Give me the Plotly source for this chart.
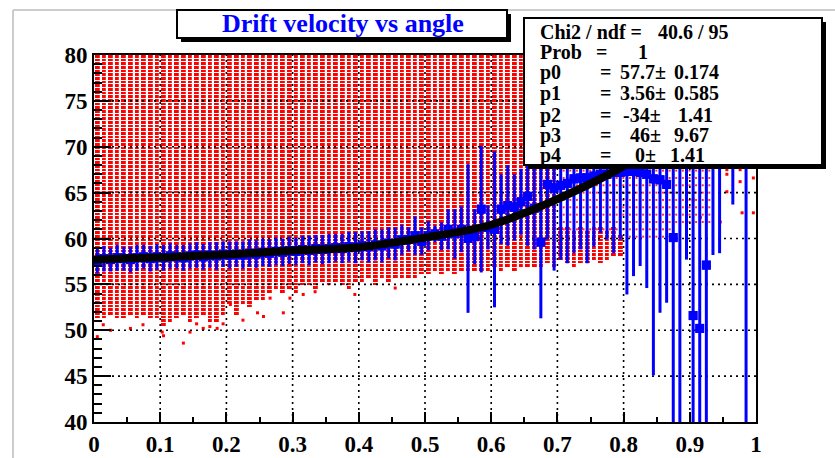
import plotly.graph_objects as go

# ---------------- data ----------------
bin_centers = [round(0.005 + 0.01 * k, 3) for k in range(100)]

# profile (blue) values and errors per x bin (None = empty bin)
prof_y = [57.6, 57.8, 57.7, 57.9, 57.8, 57.7, 57.9, 58.0, 57.8, 58.0,
          57.9, 58.1, 58.0, 57.9, 58.1, 58.2, 58.0, 58.2, 58.1, 58.3,
          58.2, 58.3, 58.2, 58.4, 58.3, 58.5, 58.4, 58.6, 58.5, 58.7,
          58.6, 58.8, 58.7, 58.9, 58.8, 58.9, 59.0, 58.9, 59.1, 59.0,
          59.2, 59.1, 59.3, 59.2, 59.5, 59.4, 59.85, 59.9, 60.3, 59.7,
          60.3, 60.5, 60.25, 61.0, 60.5, 61.0, 60.0, 60.2, 63.2, 61.2,
          61.0, 63.2, 63.6, 63.4, 64.0, 64.6, 63.3, 59.6, 65.9, 65.5,
          65.8, 66.0, 66.5, 66.6, 66.6, 66.8, 67.0, 67.0, 67.2, 67.2,
          67.3, 67.3, 67.2, 67.0, 66.5, 66.4, 65.9, 60.1, 72.0, 70.0,
          51.6, 50.2, 57.1, 70.0, 70.0, None, 72.0, None, 70.0, None]
prof_err = [1.4, 1.4, 1.3, 1.4, 1.3, 1.4, 1.4, 1.3, 1.4, 1.4,
            1.4, 1.4, 1.3, 1.4, 1.4, 1.4, 1.4, 1.4, 1.5, 1.4,
            1.5, 1.4, 1.5, 1.5, 1.5, 1.5, 1.5, 1.5, 1.5, 1.5,
            1.5, 1.5, 1.6, 1.5, 1.6, 1.6, 1.5, 1.6, 1.6, 1.7,
            1.6, 1.7, 1.7, 1.8, 1.7, 1.8, 1.65, 1.3, 2.1, 1.5,
            1.6, 0.9, 1.5, 2.2, 2.7, 2.5, 8.1, 3.0, 6.9, 2.4,
            8.5, 3.8, 4.4, 3.6, 3.6, 5.4, 4.5, 8.3, 6.0, 9.0,
            8.1, 8.7, 8.1, 7.8, 9.3, 7.7, 6.4, 7.1, 8.8, 7.3,
            13.4, 11.4, 10.2, 12.4, 21.4, 14.5, 12.9, 22.0, 35.0, 12.3,
            16.0, 22.0, 19.0, 11.8, 11.6, None, 8.3, None, 35.0, None]

# dense red scatter region: lower / upper edge per x bin (None = no dense region)
dense_lo = [51.3, 51.1, 51.7, 51.1, 51.1, 51.7, 51.3, 51.7, 51.1, 51.1,
            50.4, 50.9, 51.1, 51.5, 50.9, 51.3, 51.7, 50.9, 50.9, 51.7,
            52.8, 51.7, 52.95, 52.4, 53.1, 53.1, 53.85, 54.4, 54.2, 54.6,
            53.85, 54.8, 55.0, 54.6, 55.2, 54.8, 55.3, 55.0, 54.6, 55.2,
            55.3, 55.5, 55.0, 55.6, 55.3, 55.7, 55.5, 55.8, 55.6, 55.9,
            56.0, 56.3, 56.1, 56.4, 56.2, 56.5, 56.3, 56.6, 56.4, 56.5,
            56.8, 56.6, 56.9, 56.5, 56.8, 57.0, 56.7, 56.9, 57.1, 56.8,
            57.6, 57.4, 57.0, 57.3, 57.1, 57.5, 57.3, 57.8, 58.0, 58.2] + [None] * 20
dense_hi = [80.0] * 70 + [61.0, 61.2, 60.8, 61.0, 60.9, 61.2, 61.0, 60.8, 61.0, 60.5] + [None] * 20

# sparse red region (thin dotted columns)
sparse_lo = [None] * 70 + [61.0] * 10 + [59.9] * 7 + [61.8] * 6 + [None] * 7
sparse_hi = [None] * 70 + [80.0] * 10 + [80.0] * 7 + [80.0] * 6 + [None] * 7

# isolated red entries
out_x = [0.005, 0.014, 0.025, 0.055, 0.074, 0.103, 0.105, 0.135, 0.145, 0.155,
         0.165, 0.175, 0.186, 0.195, 0.206, 0.225, 0.236, 0.247, 0.256, 0.266,
         0.286, 0.296, 0.316, 0.334, 0.394, 0.455,
         0.956, 0.976, 0.976, 0.956, 0.996, 0.996, 0.956, 0.905, 0.916, 0.946, 0.979]
out_y = [49.3, 50.6, 50.0, 50.2, 50.6, 49.8, 49.4, 48.6, 49.8, 50.7,
         50.2, 50.4, 50.2, 50.7, 52.8, 51.1, 53.0, 51.9, 51.5, 53.5,
         51.9, 53.5, 53.9, 54.2, 53.9, 54.6,
         67.5, 67.5, 66.2, 67.0, 66.6, 62.8, 65.1, 64.2, 62.3, 61.8, 62.8]

# fitted curve
fit_x = [0.0, 0.1, 0.2, 0.3, 0.4, 0.5, 0.6, 0.7, 0.8, 0.9, 0.95]
fit_y = [57.7, 57.95, 58.25, 58.7, 59.05, 60.1, 61.5, 64.3, 67.9, 73.0, 76.5]

x_ticks = [0, 0.1, 0.2, 0.3, 0.4, 0.5, 0.6, 0.7, 0.8, 0.9, 1]
x_labels = ["0", "0.1", "0.2", "0.3", "0.4", "0.5", "0.6", "0.7", "0.8", "0.9", "1"]
y_ticks = [40, 45, 50, 55, 60, 65, 70, 75, 80]
y_labels = ["40", "45", "50", "55", "60", "65", "70", "75", "80"]

title_text = "Drift velocity vs angle"
stat_rows = [
    ("Chi2 / ndf =", None, "40.6 / 95", None),
    ("Prob", "=", "1", None),
    ("p0", "=", "57.7\u00b1", "0.174"),
    ("p1", "=", "3.56\u00b1", "0.585"),
    ("p2", "=", "-34\u00b1", "1.41"),
    ("p3", "=", "46\u00b1", "9.67"),
    ("p4", "=", "0\u00b1", "1.41"),
]

# ---------------- layout geometry ----------------
W, H = 835, 458
ML, MR, MT, MB = 94, 79, 55, 36
PW, PH = W - ML - MR, H - MT - MB
X0, X1, Y0, Y1 = 0.0, 1.0, 40.0, 80.0
YBIN = 0.4
FONT = "Liberation Serif, Times New Roman, serif"


def pxx(px):
    return (px - ML) / PW


def pxy(py):
    return 1 - (py - MT) / PH


# ---------------- red scatter (as gapped heatmap) ----------------
nrows = int(round((Y1 - Y0) / YBIN))
ycent = [Y0 + YBIN * (i + 0.5) for i in range(nrows)]
z = []
for yc in ycent:
    row = []
    for k in range(100):
        lo, hi = dense_lo[k], dense_hi[k]
        row.append(1 if (lo is not None and lo <= yc <= hi) else None)
    z.append(row)

fig = go.Figure()
fig.add_trace(go.Heatmap(x=bin_centers, y=ycent, z=z, xgap=2.2, ygap=1,
                         colorscale=[[0, "#ff0000"], [1, "#ff0000"]],
                         zmin=0, zmax=1, showscale=False, hoverinfo="skip"))

sx, sy = [], []
for k in range(100):
    lo, hi = sparse_lo[k], sparse_hi[k]
    if lo is None:
        continue
    for i, yc in enumerate(ycent):
        if lo <= yc <= hi and i % 2 == 0:
            sx.append(bin_centers[k] + 0.0045)
            sy.append(yc)
fig.add_trace(go.Scatter(x=sx, y=sy, mode="markers",
                         marker=dict(symbol="square", size=2, color="#ff3030"),
                         hoverinfo="skip", showlegend=False))
fig.add_trace(go.Scatter(x=out_x, y=out_y, mode="markers",
                         marker=dict(symbol="square", size=3, color="#ff0000"),
                         hoverinfo="skip", showlegend=False))

# ---------------- grid (dotted, above the red) ----------------
gx, gy = [], []
for t in x_ticks[1:-1]:
    gx += [t, t, None]
    gy += [Y0, Y1, None]
for t in y_ticks[1:-1]:
    gx += [X0, X1, None]
    gy += [t, t, None]
fig.add_trace(go.Scatter(x=gx, y=gy, mode="lines",
                         line=dict(color="black", width=1.6, dash="2px,4px"),
                         hoverinfo="skip", showlegend=False))

# ---------------- blue profile ----------------
px_, py_, pe_ = [], [], []
for k in range(100):
    if prof_y[k] is None:
        continue
    px_.append(bin_centers[k])
    py_.append(prof_y[k])
    pe_.append(prof_err[k])
fig.add_trace(go.Scatter(
    x=px_, y=py_, mode="markers",
    marker=dict(symbol="square", size=9, color="#0000ff"),
    error_y=dict(type="data", array=pe_, visible=True, color="#0000ff",
                 thickness=3, width=0),
    error_x=dict(type="constant", value=0.0065, visible=True, color="#0000ff",
                 thickness=9, width=0),
    hoverinfo="skip", showlegend=False))

# ---------------- fit curve ----------------
fig.add_trace(go.Scatter(x=fit_x, y=fit_y, mode="lines",
                         line=dict(color="black", width=8, shape="spline", smoothing=1.0),
                         hoverinfo="skip", showlegend=False))

# ---------------- axes ----------------
axis_common = dict(showgrid=False, zeroline=False, showline=True, linecolor="black",
                   linewidth=2, mirror=True, ticks="inside", tickcolor="black",
                   tickwidth=2, automargin=False,
                   tickfont=dict(family=FONT, size=23, color="black", weight="bold"))
fig.update_xaxes(range=[X0, X1], tickmode="array", tickvals=x_ticks, ticktext=x_labels,
                 ticklen=10, minor=dict(ticks="inside", tickmode="linear", tick0=0, dtick=0.05,
                                        ticklen=5, tickwidth=2, tickcolor="black"),
                 **axis_common)
fig.update_yaxes(range=[Y0, Y1], tickmode="array", tickvals=y_ticks, ticktext=y_labels,
                 ticklen=17, minor=dict(ticks="inside", tickmode="linear", tick0=40, dtick=1,
                                        ticklen=8, tickwidth=2, tickcolor="black"),
                 **axis_common)

shapes = []
# pad frame (light grey)
shapes.append(dict(type="line", xref="paper", yref="paper", x0=pxx(13), x1=pxx(13),
                   y0=pxy(10), y1=pxy(470), line=dict(color="#cccccc", width=2), layer="below"))
shapes.append(dict(type="line", xref="paper", yref="paper", x0=pxx(13), x1=pxx(840),
                   y0=pxy(10), y1=pxy(10), line=dict(color="#cccccc", width=2), layer="below"))
# title box with shadow
shapes.append(dict(type="rect", xref="paper", yref="paper", x0=pxx(181), x1=pxx(511),
                   y0=pxy(42), y1=pxy(14), fillcolor="black", line=dict(width=0)))
shapes.append(dict(type="rect", xref="paper", yref="paper", x0=pxx(177), x1=pxx(507),
                   y0=pxy(38), y1=pxy(10), fillcolor="white", line=dict(color="black", width=2)))
# stats box with shadow
shapes.append(dict(type="rect", xref="paper", yref="paper", x0=pxx(528), x1=pxx(826),
                   y0=pxy(169), y1=pxy(22), fillcolor="black", line=dict(width=0)))
shapes.append(dict(type="rect", xref="paper", yref="paper", x0=pxx(524), x1=pxx(822),
                   y0=pxy(165), y1=pxy(18), fillcolor="white", line=dict(color="black", width=2)))

ann = []
ann.append(dict(text=title_text, xref="paper", yref="paper", x=pxx(343), y=pxy(24),
                xanchor="center", yanchor="middle", showarrow=False,
                font=dict(family=FONT, size=26, color="#0000ff", weight="bold")))
row_y = [32, 52, 72, 93, 115, 135, 155]
val_right = [None, None, 668, 668, 663, 663, 658]
err_left = [None, None, 672, 672, 676, 672, 668]
sfont = dict(family=FONT, size=20, color="black", weight="bold")
for r, (name, eq, val, err) in enumerate(stat_rows):
    yy = pxy(row_y[r])
    ann.append(dict(text=name, xref="paper", yref="paper", x=pxx(538), y=yy,
                    xanchor="left", yanchor="middle", showarrow=False, font=sfont))
    if r == 0:
        ann.append(dict(text=val, xref="paper", yref="paper", x=pxx(656), y=yy,
                        xanchor="left", yanchor="middle", showarrow=False, font=sfont))
        continue
    ann.append(dict(text=eq, xref="paper", yref="paper", x=pxx(601 if r == 1 else 605), y=yy,
                    xanchor="center", yanchor="middle", showarrow=False, font=sfont))
    if r == 1:
        ann.append(dict(text=val, xref="paper", yref="paper", x=pxx(636), y=yy,
                        xanchor="left", yanchor="middle", showarrow=False, font=sfont))
        continue
    ann.append(dict(text=val, xref="paper", yref="paper", x=pxx(val_right[r]), y=yy,
                    xanchor="right", yanchor="middle", showarrow=False, font=sfont))
    ann.append(dict(text=err, xref="paper", yref="paper", x=pxx(err_left[r]), y=yy,
                    xanchor="left", yanchor="middle", showarrow=False, font=sfont))

fig.update_layout(width=W, height=H, margin=dict(l=ML, r=MR, t=MT, b=MB, pad=0, autoexpand=False),
                  paper_bgcolor="white", plot_bgcolor="white", showlegend=False,
                  shapes=shapes, annotations=ann)

fig.write_html("out.html", include_plotlyjs=True, config={"displayModeBar": False})
